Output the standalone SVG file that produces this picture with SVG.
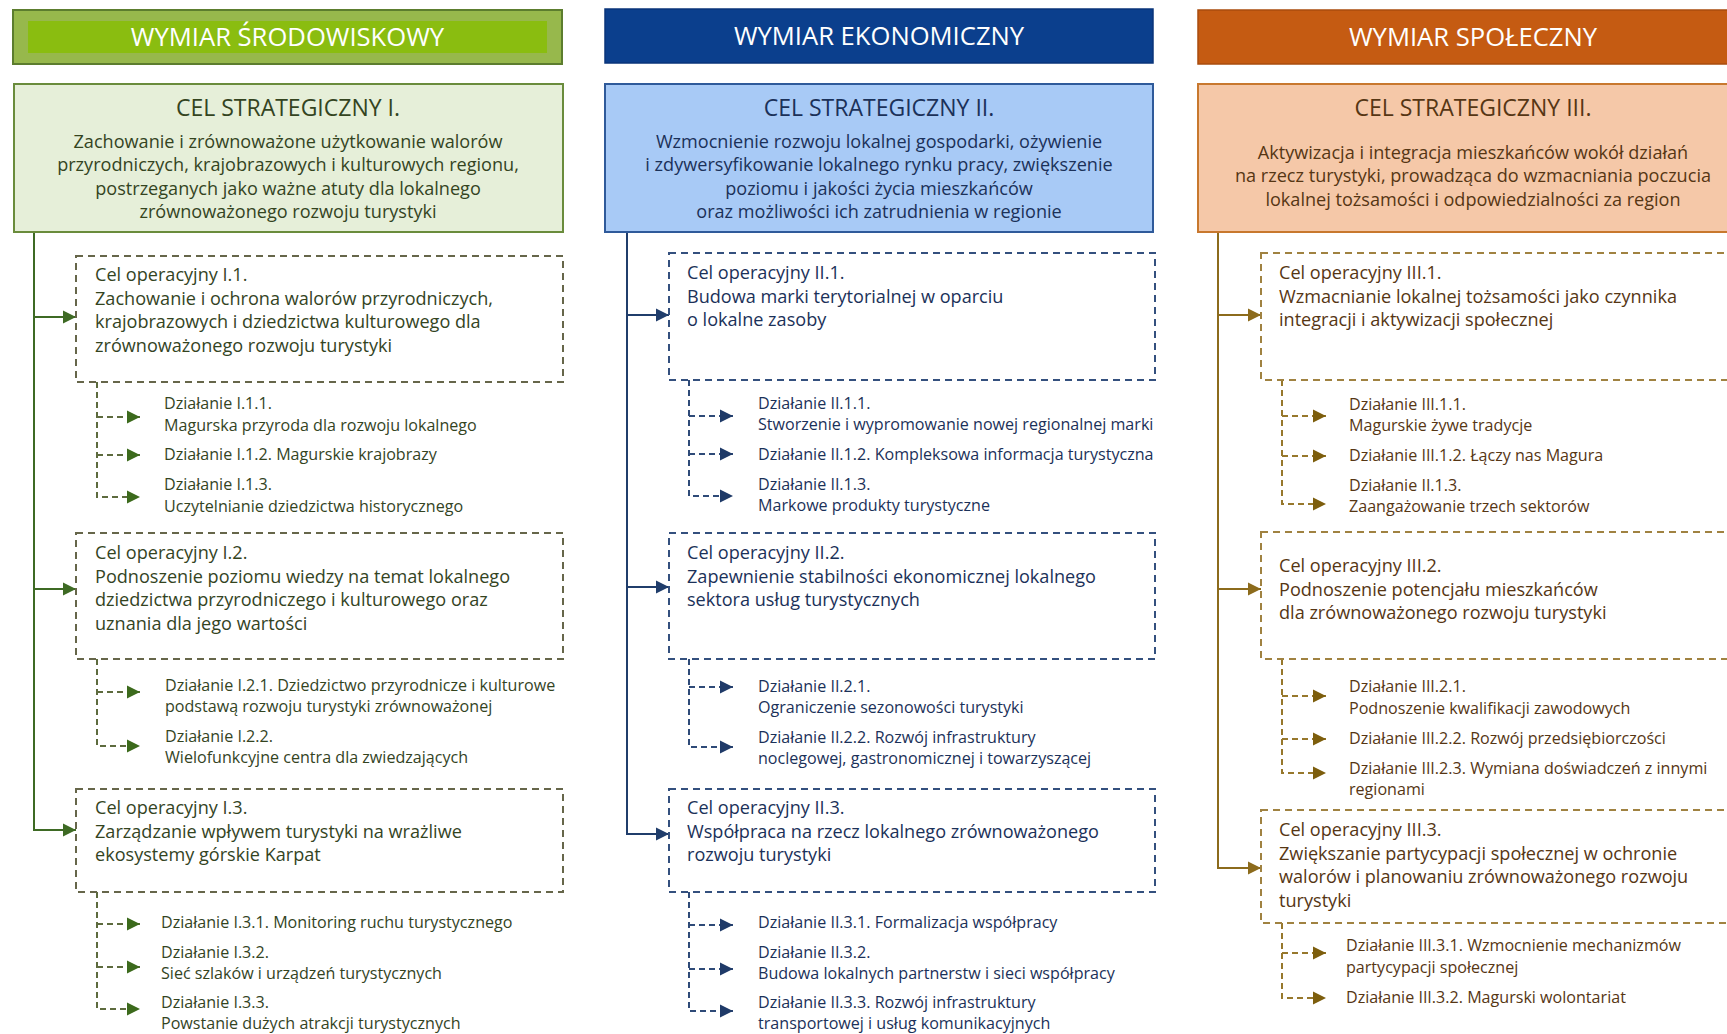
<svg xmlns="http://www.w3.org/2000/svg" width="1727" height="1034" viewBox="0 0 1727 1034">
<style>
text{font-family:"Open Sans","Noto Sans","Liberation Sans",sans-serif}
.hd{font-size:25.6px;fill:#ffffff;text-anchor:middle}
.st{font-size:23px;text-anchor:middle}
.sb{font-size:18.1px;text-anchor:middle}
.op{font-size:18.1px}
.ac{font-size:16.1px}
.g .tx{fill:#34441f}
.b .tx{fill:#1b3159}
.o .tx{fill:#563614}
.opbox{fill:none;stroke-width:2;stroke-dasharray:7 5}
.g .opbox{stroke:#66664a}
.b .opbox{stroke:#34507e}
.o .opbox{stroke:#a08241}
.trunk{fill:none;stroke-width:2}
.dash{fill:none;stroke-width:2;stroke-dasharray:6 4}
</style>
<defs>
<marker id="mg" viewBox="0 0 10 10" refX="10" refY="5" markerUnits="userSpaceOnUse" markerWidth="13" markerHeight="14" orient="auto"><path d="M0,0L10,5L0,10z" fill="#3e6a24"/></marker>
<marker id="mb" viewBox="0 0 10 10" refX="10" refY="5" markerUnits="userSpaceOnUse" markerWidth="13" markerHeight="14" orient="auto"><path d="M0,0L10,5L0,10z" fill="#203d6b"/></marker>
<marker id="mo" viewBox="0 0 10 10" refX="10" refY="5" markerUnits="userSpaceOnUse" markerWidth="13" markerHeight="14" orient="auto"><path d="M0,0L10,5L0,10z" fill="#8c6b1c"/></marker>
<marker id="ag" viewBox="0 0 10 10" refX="10" refY="5" markerUnits="userSpaceOnUse" markerWidth="13" markerHeight="14" orient="auto"><path d="M0,0L10,5L0,10z" fill="#3c6a1c"/></marker>
<marker id="ab" viewBox="0 0 10 10" refX="10" refY="5" markerUnits="userSpaceOnUse" markerWidth="13" markerHeight="14" orient="auto"><path d="M0,0L10,5L0,10z" fill="#1f3a68"/></marker>
<marker id="ao" viewBox="0 0 10 10" refX="10" refY="5" markerUnits="userSpaceOnUse" markerWidth="13" markerHeight="14" orient="auto"><path d="M0,0L10,5L0,10z" fill="#7d5e0d"/></marker>
</defs>
<rect width="1727" height="1034" fill="#ffffff"/>

<!-- connectors -->
<g id="connectors">
<g id="conn-env">
<path class="trunk" stroke="#3e6a24" d="M34,232V830H76"/>
<path class="trunk" stroke="#3e6a24" d="M34,317H76" marker-end="url(#mg)"/>
<path class="trunk" stroke="#3e6a24" d="M34,589H76" marker-end="url(#mg)"/>
<path class="trunk" stroke="#3e6a24" d="M34,830H76" marker-end="url(#mg)"/>
<path class="dash" stroke="#5d6b3e" d="M97,382V497H140" marker-end="url(#ag)"/>
<path class="dash" stroke="#5d6b3e" d="M97,417H140" marker-end="url(#ag)"/>
<path class="dash" stroke="#5d6b3e" d="M97,455H140" marker-end="url(#ag)"/>
<path class="dash" stroke="#5d6b3e" d="M97,659V746H140" marker-end="url(#ag)"/>
<path class="dash" stroke="#5d6b3e" d="M97,692H140" marker-end="url(#ag)"/>
<path class="dash" stroke="#5d6b3e" d="M97,892V1009H140" marker-end="url(#ag)"/>
<path class="dash" stroke="#5d6b3e" d="M97,924H140" marker-end="url(#ag)"/>
<path class="dash" stroke="#5d6b3e" d="M97,967H140" marker-end="url(#ag)"/>
</g>
<g id="conn-eco">
<path class="trunk" stroke="#203d6b" d="M627,232V834H669"/>
<path class="trunk" stroke="#203d6b" d="M627,315H669" marker-end="url(#mb)"/>
<path class="trunk" stroke="#203d6b" d="M627,587H669" marker-end="url(#mb)"/>
<path class="trunk" stroke="#203d6b" d="M627,834H669" marker-end="url(#mb)"/>
<path class="dash" stroke="#2e4a78" d="M689,380V496H733" marker-end="url(#ab)"/>
<path class="dash" stroke="#2e4a78" d="M689,416H733" marker-end="url(#ab)"/>
<path class="dash" stroke="#2e4a78" d="M689,454H733" marker-end="url(#ab)"/>
<path class="dash" stroke="#2e4a78" d="M689,659V747H733" marker-end="url(#ab)"/>
<path class="dash" stroke="#2e4a78" d="M689,687H733" marker-end="url(#ab)"/>
<path class="dash" stroke="#2e4a78" d="M689,892V1011H733" marker-end="url(#ab)"/>
<path class="dash" stroke="#2e4a78" d="M689,925H733" marker-end="url(#ab)"/>
<path class="dash" stroke="#2e4a78" d="M689,969H733" marker-end="url(#ab)"/>
</g>
<g id="conn-soc">
<path class="trunk" stroke="#8c6b1c" d="M1218,232V868H1261"/>
<path class="trunk" stroke="#8c6b1c" d="M1218,315H1261" marker-end="url(#mo)"/>
<path class="trunk" stroke="#8c6b1c" d="M1218,589H1261" marker-end="url(#mo)"/>
<path class="trunk" stroke="#8c6b1c" d="M1218,868H1261" marker-end="url(#mo)"/>
<path class="dash" stroke="#97782c" d="M1282,380V504H1326" marker-end="url(#ao)"/>
<path class="dash" stroke="#97782c" d="M1282,416H1326" marker-end="url(#ao)"/>
<path class="dash" stroke="#97782c" d="M1282,456H1326" marker-end="url(#ao)"/>
<path class="dash" stroke="#97782c" d="M1282,659V773H1326" marker-end="url(#ao)"/>
<path class="dash" stroke="#97782c" d="M1282,696H1326" marker-end="url(#ao)"/>
<path class="dash" stroke="#97782c" d="M1282,739H1326" marker-end="url(#ao)"/>
<path class="dash" stroke="#97782c" d="M1282,923V998H1326" marker-end="url(#ao)"/>
<path class="dash" stroke="#97782c" d="M1282,953H1326" marker-end="url(#ao)"/>
</g>
</g>

<!-- ENVIRONMENT column -->
<g class="g">
<g id="hdr-env">
<rect x="13" y="10" width="549" height="54" fill="#97b84c" stroke="#5c7d2e" stroke-width="2"/>
<rect x="28" y="21" width="519" height="32" fill="#8abd10"/>
<text class="hd" x="287.5" y="46">WYMIAR ŚRODOWISKOWY</text>
</g>
<g id="cs1">
<rect x="14" y="84" width="549" height="148" fill="#e6efd9" stroke="#6a8c3c" stroke-width="2"/>
<text class="st tx" x="288" y="116">CEL STRATEGICZNY I.</text>
<text class="sb tx" x="288" y="148">Zachowanie i zrównoważone użytkowanie walorów</text>
<text class="sb tx" x="288" y="171">przyrodniczych, krajobrazowych i kulturowych regionu,</text>
<text class="sb tx" x="288" y="195">postrzeganych jako ważne atuty dla lokalnego</text>
<text class="sb tx" x="288" y="218">zrównoważonego rozwoju turystyki</text>
</g>
<g id="co11">
<rect class="opbox" x="76" y="256" width="487" height="126"/>
<text class="op tx" x="95" y="281">Cel operacyjny I.1.</text>
<text class="op tx" x="95" y="304.5">Zachowanie i ochrona walorów przyrodniczych,</text>
<text class="op tx" x="95" y="328">krajobrazowych i dziedzictwa kulturowego dla</text>
<text class="op tx" x="95" y="351.5">zrównoważonego rozwoju turystyki</text>
</g>
<g id="d111"><text class="ac tx" x="164" y="409">Działanie I.1.1.</text><text class="ac tx" x="164" y="431">Magurska przyroda dla rozwoju lokalnego</text></g>
<g id="d112"><text class="ac tx" x="164" y="460">Działanie I.1.2. Magurskie krajobrazy</text></g>
<g id="d113"><text class="ac tx" x="164" y="490">Działanie I.1.3.</text><text class="ac tx" x="164" y="512">Uczytelnianie dziedzictwa historycznego</text></g>
<g id="co12">
<rect class="opbox" x="76" y="533" width="487" height="126"/>
<text class="op tx" x="95" y="559">Cel operacyjny I.2.</text>
<text class="op tx" x="95" y="582.5">Podnoszenie poziomu wiedzy na temat lokalnego</text>
<text class="op tx" x="95" y="606">dziedzictwa przyrodniczego i kulturowego oraz</text>
<text class="op tx" x="95" y="629.5">uznania dla jego wartości</text>
</g>
<g id="d121"><text class="ac tx" x="165" y="691">Działanie I.2.1. Dziedzictwo przyrodnicze i kulturowe</text><text class="ac tx" x="165" y="712">podstawą rozwoju turystyki zrównoważonej</text></g>
<g id="d122"><text class="ac tx" x="165" y="742">Działanie I.2.2.</text><text class="ac tx" x="165" y="763">Wielofunkcyjne centra dla zwiedzających</text></g>
<g id="co13">
<rect class="opbox" x="76" y="789" width="487" height="103"/>
<text class="op tx" x="95" y="814">Cel operacyjny I.3.</text>
<text class="op tx" x="95" y="837.5">Zarządzanie wpływem turystyki na wrażliwe</text>
<text class="op tx" x="95" y="861">ekosystemy górskie Karpat</text>
</g>
<g id="d131"><text class="ac tx" x="161" y="928">Działanie I.3.1. Monitoring ruchu turystycznego</text></g>
<g id="d132"><text class="ac tx" x="161" y="958">Działanie I.3.2.</text><text class="ac tx" x="161" y="979">Sieć szlaków i urządzeń turystycznych</text></g>
<g id="d133"><text class="ac tx" x="161" y="1008">Działanie I.3.3.</text><text class="ac tx" x="161" y="1029">Powstanie dużych atrakcji turystycznych</text></g>
</g>

<!-- ECONOMIC column -->
<g class="b">
<g id="hdr-eco">
<rect x="605" y="9" width="548" height="54" fill="#0b3f8d" stroke="#0a357a" stroke-width="1.5"/>
<text class="hd" x="879" y="45">WYMIAR EKONOMICZNY</text>
</g>
<g id="cs2">
<rect x="605" y="84" width="548" height="148" fill="#a8caf6" stroke="#2f5a9a" stroke-width="2"/>
<text class="st tx" x="879" y="116">CEL STRATEGICZNY II.</text>
<text class="sb tx" x="879" y="148">Wzmocnienie rozwoju lokalnej gospodarki, ożywienie</text>
<text class="sb tx" x="879" y="171">i zdywersyfikowanie lokalnego rynku pracy, zwiększenie</text>
<text class="sb tx" x="879" y="195">poziomu i jakości życia mieszkańców</text>
<text class="sb tx" x="879" y="218">oraz możliwości ich zatrudnienia w regionie</text>
</g>
<g id="co21">
<rect class="opbox" x="669" y="253" width="486" height="127"/>
<text class="op tx" x="687" y="279">Cel operacyjny II.1.</text>
<text class="op tx" x="687" y="302.5">Budowa marki terytorialnej w oparciu</text>
<text class="op tx" x="687" y="326">o lokalne zasoby</text>
</g>
<g id="d211"><text class="ac tx" x="758" y="409">Działanie II.1.1.</text><text class="ac tx" x="758" y="430">Stworzenie i wypromowanie nowej regionalnej marki</text></g>
<g id="d212"><text class="ac tx" x="758" y="460">Działanie II.1.2. Kompleksowa informacja turystyczna</text></g>
<g id="d213"><text class="ac tx" x="758" y="490">Działanie II.1.3.</text><text class="ac tx" x="758" y="511">Markowe produkty turystyczne</text></g>
<g id="co22">
<rect class="opbox" x="669" y="533" width="486" height="126"/>
<text class="op tx" x="687" y="559">Cel operacyjny II.2.</text>
<text class="op tx" x="687" y="582.5">Zapewnienie stabilności ekonomicznej lokalnego</text>
<text class="op tx" x="687" y="606">sektora usług turystycznych</text>
</g>
<g id="d221"><text class="ac tx" x="758" y="692">Działanie II.2.1.</text><text class="ac tx" x="758" y="713">Ograniczenie sezonowości turystyki</text></g>
<g id="d222"><text class="ac tx" x="758" y="743">Działanie II.2.2. Rozwój infrastruktury</text><text class="ac tx" x="758" y="764">noclegowej, gastronomicznej i towarzyszącej</text></g>
<g id="co23">
<rect class="opbox" x="669" y="789" width="486" height="103"/>
<text class="op tx" x="687" y="814">Cel operacyjny II.3.</text>
<text class="op tx" x="687" y="837.5">Współpraca na rzecz lokalnego zrównoważonego</text>
<text class="op tx" x="687" y="861">rozwoju turystyki</text>
</g>
<g id="d231"><text class="ac tx" x="758" y="928">Działanie II.3.1. Formalizacja współpracy</text></g>
<g id="d232"><text class="ac tx" x="758" y="958">Działanie II.3.2.</text><text class="ac tx" x="758" y="979">Budowa lokalnych partnerstw i sieci współpracy</text></g>
<g id="d233"><text class="ac tx" x="758" y="1008">Działanie II.3.3. Rozwój infrastruktury</text><text class="ac tx" x="758" y="1029">transportowej i usług komunikacyjnych</text></g>
</g>

<!-- SOCIAL column -->
<g class="o">
<g id="hdr-soc">
<rect x="1198" y="10" width="560" height="54" fill="#c55b12" stroke="#a94c0e" stroke-width="1.5"/>
<text class="hd" x="1473" y="46">WYMIAR SPOŁECZNY</text>
</g>
<g id="cs3">
<rect x="1198" y="84" width="560" height="148" fill="#f5c8a8" stroke="#c8782e" stroke-width="2"/>
<text class="st tx" x="1473" y="116">CEL STRATEGICZNY III.</text>
<text class="sb tx" x="1473" y="159">Aktywizacja i integracja mieszkańców wokół działań</text>
<text class="sb tx" x="1473" y="182">na rzecz turystyki, prowadząca do wzmacniania poczucia</text>
<text class="sb tx" x="1473" y="206">lokalnej tożsamości i odpowiedzialności za region</text>
</g>
<g id="co31">
<rect class="opbox" x="1261" y="253" width="500" height="127"/>
<text class="op tx" x="1279" y="279">Cel operacyjny III.1.</text>
<text class="op tx" x="1279" y="302.5">Wzmacnianie lokalnej tożsamości jako czynnika</text>
<text class="op tx" x="1279" y="326">integracji i aktywizacji społecznej</text>
</g>
<g id="d311"><text class="ac tx" x="1349" y="410">Działanie III.1.1.</text><text class="ac tx" x="1349" y="431">Magurskie żywe tradycje</text></g>
<g id="d312"><text class="ac tx" x="1349" y="461">Działanie III.1.2. Łączy nas Magura</text></g>
<g id="d313"><text class="ac tx" x="1349" y="491">Działanie II.1.3.</text><text class="ac tx" x="1349" y="512">Zaangażowanie trzech sektorów</text></g>
<g id="co32">
<rect class="opbox" x="1261" y="532" width="500" height="127"/>
<text class="op tx" x="1279" y="572">Cel operacyjny III.2.</text>
<text class="op tx" x="1279" y="595.5">Podnoszenie potencjału mieszkańców</text>
<text class="op tx" x="1279" y="619">dla zrównoważonego rozwoju turystyki</text>
</g>
<g id="d321"><text class="ac tx" x="1349" y="692">Działanie III.2.1.</text><text class="ac tx" x="1349" y="714">Podnoszenie kwalifikacji zawodowych</text></g>
<g id="d322"><text class="ac tx" x="1349" y="744">Działanie III.2.2. Rozwój przedsiębiorczości</text></g>
<g id="d323"><text class="ac tx" x="1349" y="774">Działanie III.2.3. Wymiana doświadczeń z innymi</text><text class="ac tx" x="1349" y="795">regionami</text></g>
<g id="co33">
<rect class="opbox" x="1261" y="810" width="500" height="113"/>
<text class="op tx" x="1279" y="836">Cel operacyjny III.3.</text>
<text class="op tx" x="1279" y="859.5">Zwiększanie partycypacji społecznej w ochronie</text>
<text class="op tx" x="1279" y="883">walorów i planowaniu zrównoważonego rozwoju</text>
<text class="op tx" x="1279" y="906.5">turystyki</text>
</g>
<g id="d331"><text class="ac tx" x="1346" y="951">Działanie III.3.1. Wzmocnienie mechanizmów</text><text class="ac tx" x="1346" y="973">partycypacji społecznej</text></g>
<g id="d332"><text class="ac tx" x="1346" y="1003">Działanie III.3.2. Magurski wolontariat</text></g>
</g>
</svg>
